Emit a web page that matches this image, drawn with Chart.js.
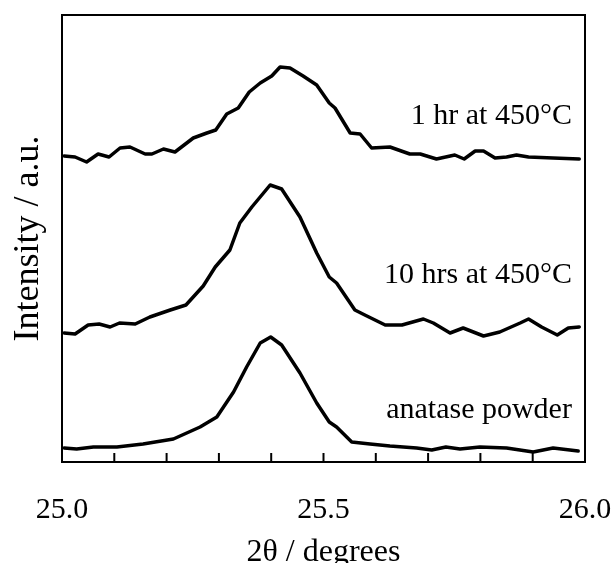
<!DOCTYPE html>
<html>
<head>
<meta charset="utf-8">
<script src="https://cdn.jsdelivr.net/npm/chart.js@4.4.1/dist/chart.umd.min.js"></script>
<style>
body{margin:0;background:#fff;}
</style>
</head>
<body>
<canvas id="mycanvas" width="614" height="563"></canvas>
<script>
// 2theta (degrees) and intensity (a.u.)
var oneHrX=[25.004,25.025,25.047,25.069,25.090,25.111,25.130,25.159,25.172,25.194,25.216,25.251,25.277,25.294,25.315,25.337,25.358,25.379,25.401,25.417,25.436,25.461,25.487,25.511,25.522,25.551,25.570,25.592,25.627,25.665,25.685,25.716,25.751,25.769,25.790,25.806,25.828,25.850,25.869,25.892,25.939,25.989];
var oneHrY=[306,305,300,308,305,314,315,308,308,313,310,324,329,332,348,354,370,379,386,395,394,386,377,359,354,329,328,314,315,308,308,303,307,303,311,311,304,305,307,305,304,303];

var tenHrsX=[25.004,25.025,25.050,25.071,25.092,25.110,25.140,25.168,25.207,25.237,25.270,25.293,25.321,25.340,25.363,25.398,25.420,25.455,25.487,25.511,25.525,25.560,25.579,25.618,25.650,25.691,25.710,25.742,25.767,25.806,25.837,25.876,25.892,25.917,25.947,25.968,25.989];
var tenHrsY=[129,128,137,138,135,139,138,145,152,157,176,195,212,239,255,277,273,245,209,185,179,152,147,137,137,143,139,129,134,126,130,139,143,135,127,134,135];

var anataseX=[25.004,25.028,25.060,25.105,25.155,25.213,25.264,25.296,25.328,25.353,25.379,25.399,25.420,25.455,25.487,25.511,25.525,25.554,25.589,25.627,25.678,25.707,25.734,25.761,25.799,25.850,25.901,25.939,25.987];
var anataseY=[14,13,15,15,18,23,35,45,70,95,119,125,117,89,59,40,35,20,18,16,14,12,15,13,15,14,10,14,11];

var seriesNames=['1 hr at 450°C','10 hrs at 450°C','anatase powder'];
var tickLabels=['25.0','25.5','26.0'];
var minorTicks=[25.1,25.2,25.3,25.4,25.5,25.6,25.7,25.8,25.9];

function pts(xs,ys){
	var out=[];
	for(var i=0;i<xs.length;i++){
		out.push({x:xs[i],y:ys[i]});
	}
	return out;
}

var serif='"Liberation Serif", "Times New Roman", serif';

// box, inward ticks and curve labels
var framePlugin={
	id:'frame',
	afterDraw:function(chart){
		var ctx=chart.ctx;
		var a=chart.chartArea;
		var xs=chart.scales.x;
		var ys=chart.scales.y;
		ctx.save();
		ctx.strokeStyle='#000';
		ctx.lineWidth=2;
		ctx.strokeRect(a.left,a.top,a.right-a.left,a.bottom-a.top);
		for(var i=0;i<minorTicks.length;i++){
			var px=xs.getPixelForValue(minorTicks[i]);
			ctx.beginPath();
			ctx.moveTo(px,a.bottom);
			ctx.lineTo(px,a.bottom-9);
			ctx.stroke();
		}
		ctx.fillStyle='#000';
		ctx.font='30px '+serif;
		ctx.textAlign='right';
		ctx.textBaseline='alphabetic';
		var labelY=[338,179,44];
		for(var j=0;j<seriesNames.length;j++){
			ctx.fillText(seriesNames[j],xs.getPixelForValue(25.975),ys.getPixelForValue(labelY[j]));
		}
		ctx.restore();
	}
};

var line={borderColor:'#000',borderWidth:3.5,pointRadius:0,tension:0,fill:false,borderJoinStyle:'round',borderCapStyle:'round'};

var chartdata={
	datasets:[
		Object.assign({label:seriesNames[0],data:pts(oneHrX,oneHrY)},line),
		Object.assign({label:seriesNames[1],data:pts(tenHrsX,tenHrsY)},line),
		Object.assign({label:seriesNames[2],data:pts(anataseX,anataseY)},line)
	]
};

var ctx=document.getElementById('mycanvas');
var chart=new Chart(ctx,{
	type:'line',
	data:chartdata,
	options:{
		responsive:false,
		animation:false,
		layout:{padding:{top:15,right:29,left:0,bottom:0}},
		plugins:{legend:{display:false},tooltip:{enabled:false}},
		scales:{
			x:{
				type:'linear',
				min:25,
				max:26,
				grid:{display:false,drawTicks:false},
				border:{display:false},
				ticks:{
					stepSize:0.1,
					autoSkip:false,
					maxRotation:0,
					padding:33,
					color:'#000',
					font:{family:serif,size:30,lineHeight:1},
					callback:function(v){
						var k=Math.round(v*2);
						if(Math.abs(v*2-k)<1e-6){
							return tickLabels[k-50];
						}
						return '';
					}
				},
				title:{
					display:true,
					text:'2θ / degrees',
					color:'#000',
					font:{family:serif,size:32,lineHeight:0.68},
					padding:{top:0,bottom:0}
				},
				afterFit:function(s){
					s.height=101;
					s.paddingLeft=0;
					s.paddingRight=0;
				}
			},
			y:{
				min:0,
				max:447,
				grid:{display:false,drawTicks:false},
				border:{display:false},
				ticks:{display:false},
				title:{
					display:true,
					text:'Intensity / a.u.',
					color:'#000',
					font:{family:serif,size:36,lineHeight:1},
					padding:{top:11,bottom:0}
				},
				afterFit:function(s){
					s.width=62;
					s.paddingTop=0;
					s.paddingBottom=0;
				}
			}
		}
	},
	plugins:[framePlugin]
});
</script>
</body>
</html>
